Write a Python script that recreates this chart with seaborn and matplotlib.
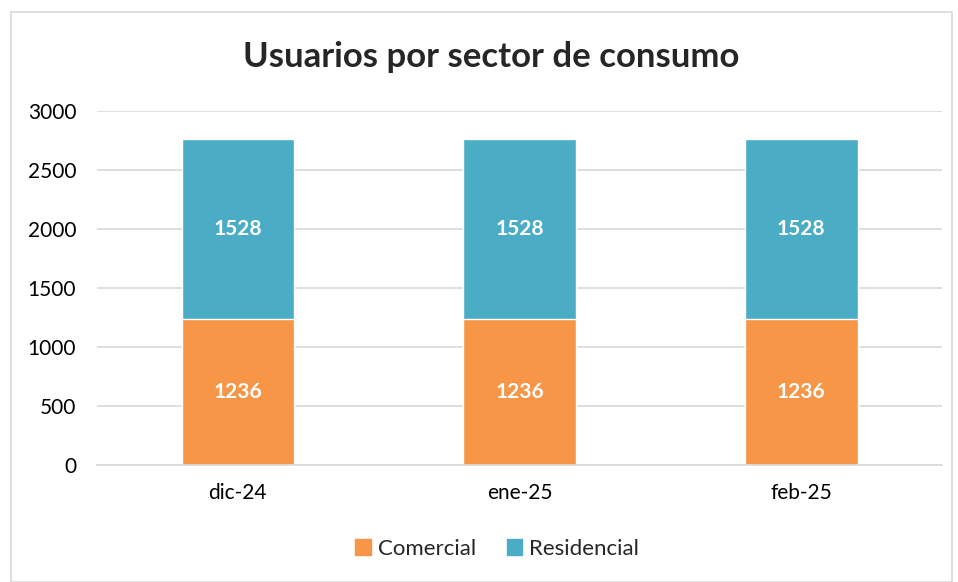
import matplotlib
matplotlib.use('Agg')
import matplotlib.pyplot as plt
import seaborn as sns
import pandas as pd
from matplotlib.patches import Patch, Rectangle

meses = ['dic-24', 'ene-25', 'feb-25']
comercial = [1236, 1236, 1236]
residencial = [1528, 1528, 1528]

naranja = '#F79646'
azul = '#4BACC6'

sns.set_theme(style='white')
plt.rcParams['font.family'] = ['Lato', 'DejaVu Sans']

df = pd.DataFrame({'mes': meses, 'comercial': comercial, 'residencial': residencial})
df['total'] = df['comercial'] + df['residencial']

fig = plt.figure(figsize=(9.58, 5.82), dpi=100)
ax = fig.add_axes([0.1013, 0.201, 0.882, 0.608])

# barra total (residencial arriba) y comercial encima desde cero
sns.barplot(data=df, x='mes', y='total', color=azul, width=0.4, saturation=1, ax=ax)
sns.barplot(data=df, x='mes', y='comercial', color=naranja, width=0.4, saturation=1, ax=ax)

for i, (c, r) in enumerate(zip(comercial, residencial)):
    ax.text(i, c / 2, str(c), ha='center', va='center', color='white',
            fontsize=15, fontweight='bold')
    ax.text(i, c + r / 2, str(r), ha='center', va='center', color='white',
            fontsize=15, fontweight='bold')

ax.set_ylim(0, 3000)
ax.set_xlim(-0.5, 2.5)
ax.set_yticks(range(0, 3001, 500))
ax.yaxis.grid(True, color='#D9D9D9', linewidth=1.2)
ax.set_axisbelow(True)
for s in ['top', 'right', 'left']:
    ax.spines[s].set_visible(False)
ax.spines['bottom'].set_color('#D9D9D9')
ax.spines['bottom'].set_linewidth(1.2)
ax.tick_params(axis='y', labelsize=15, colors='black', length=0, pad=15)
ax.tick_params(axis='x', labelsize=15, colors='black', length=0, pad=13)
ax.set_xlabel('')
ax.set_ylabel('')

fig.text(0.513, 0.902, 'Usuarios por sector de consumo', ha='center', va='center',
         fontsize=25, fontweight='bold')

handles = [Patch(color=naranja, label='Comercial'), Patch(color=azul, label='Residencial')]
fig.legend(handles=handles, loc='center', bbox_to_anchor=(0.519, 0.057), ncol=2,
           frameon=False, fontsize=16, handlelength=0.7, handleheight=0.7,
           handletextpad=0.3, columnspacing=1.4)

fig.patches.append(Rectangle((0.012, 0.0), 0.982, 0.979, transform=fig.transFigure,
                             fill=False, edgecolor='#D9D9D9', linewidth=1.2))

plt.savefig('out.png', dpi=100)
